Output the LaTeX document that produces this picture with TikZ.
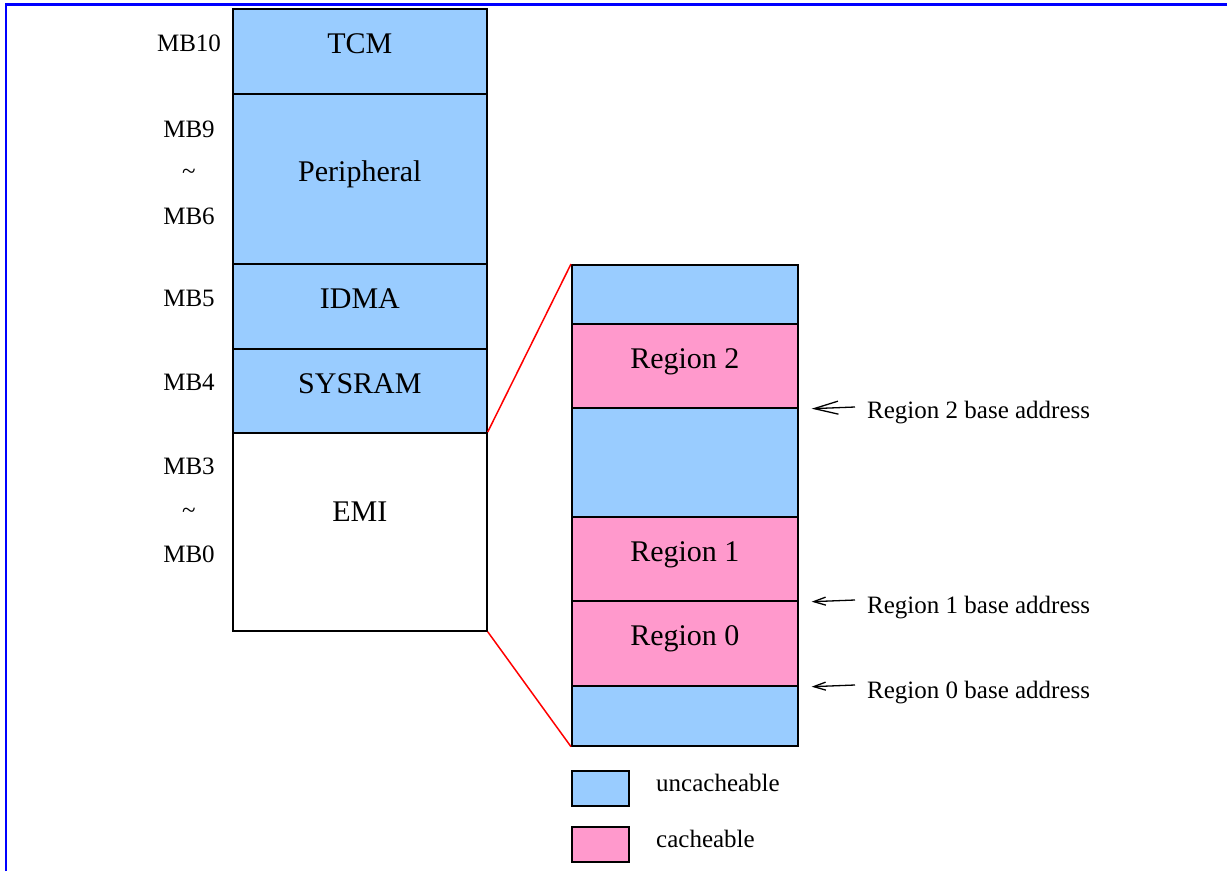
\documentclass[tikz,border=0pt]{standalone}
\usepackage{fontspec}
\setmainfont{Liberation Serif}
\usetikzlibrary{arrows.meta,calc}
\definecolor{ublue}{HTML}{99CCFF}
\definecolor{cpink}{HTML}{FF99CC}
\definecolor{frameblue}{RGB}{0,0,255}
\begin{document}
\begin{tikzpicture}[x=1pt,y=-1pt,
  blk/.style={draw=black, line width=1.7pt, inner sep=0pt, anchor=north west,
    font=\fontsize{30}{36}\selectfont, text height=20pt, text depth=15pt},
  ub/.style={blk, fill=ublue},
  cb/.style={blk, fill=cpink},
  wb/.style={blk, fill=white},
  mblabel/.style={anchor=base, font=\fontsize{25}{30}\selectfont, inner sep=0pt},
  txtlabel/.style={anchor=base west, font=\fontsize{25}{30}\selectfont, inner sep=0pt},
  zoomline/.style={draw=red, line width=1.5pt},
  bigarr/.style={draw=black, line width=1.3pt, {Straight Barb[length=24pt,width=13pt]}-},
  smallarr/.style={draw=black, line width=1.3pt, {Straight Barb[length=12pt,width=8pt]}-}
]
\useasboundingbox (0,0) rectangle (1227,871);
\fill[white] (0,0) rectangle (1227,871);
% frame
\coordinate (fa) at (6,871);
\coordinate (fb) at (6,4.5);
\coordinate (fc) at (1227,4.5);
\draw[frameblue, line width=2.2pt] (fa) -- (fb) -- (fc);

% left memory map
\node[ub, minimum width=254pt, minimum height=85pt] (tcm) at (232,8) {TCM};
\node[ub, minimum width=254pt, minimum height=170pt] (per) at (232,93) {Peripheral};
\node[ub, minimum width=254pt, minimum height=85pt] (idma) at (232,263) {IDMA};
\node[ub, minimum width=254pt, minimum height=84pt] (sys) at (232,348) {SYSRAM};
\node[wb, minimum width=254pt, minimum height=198pt, text depth=40pt] (emi) at (232,432) {EMI};

% MB labels
\node[mblabel] (mb10) at (189,51) {MB10};
\node[mblabel] (mb9) at (189,137) {MB9};
\node[mblabel] (t1) at (189,179) {\textasciitilde};
\node[mblabel] (mb6) at (189,224) {MB6};
\node[mblabel] (mb5) at (189,306) {MB5};
\node[mblabel] (mb4) at (189,390) {MB4};
\node[mblabel] (mb3) at (189,474) {MB3};
\node[mblabel] (t2) at (189,518) {\textasciitilde};
\node[mblabel] (mb0) at (189,562) {MB0};

% right expanded EMI
\node[ub, minimum width=226pt, minimum height=59pt] (rtop) at (571,264) {};
\node[cb, minimum width=226pt, minimum height=84pt] (r2) at (571,323) {Region 2};
\node[ub, minimum width=226pt, minimum height=109pt] (rmid) at (571,407) {};
\node[cb, minimum width=226pt, minimum height=84pt] (r1) at (571,516) {Region 1};
\node[cb, minimum width=226pt, minimum height=85pt] (r0) at (571,600) {Region 0};
\node[ub, minimum width=226pt, minimum height=60pt] (rbot) at (571,685) {};

% zoom lines
\draw[zoomline] (emi.north east) -- (rtop.north west);
\draw[zoomline] (emi.south east) -- (rbot.south west);

% base address labels
\node[txtlabel] (l2) at (867,418) {Region 2 base address};
\node[txtlabel] (l1) at (867,613) {Region 1 base address};
\node[txtlabel] (l0) at (867,698) {Region 0 base address};
\coordinate (e2) at (855,407);
\coordinate (e1) at (855,600);
\coordinate (e0) at (855,685);
\draw[bigarr] ($(r2.south east)+(13,0)$) -- (e2);
\draw[smallarr] ($(r1.south east)+(13,0)$) -- (e1);
\draw[smallarr] ($(r0.south east)+(13,0)$) -- (e0);

% legend
\node[blk, fill=ublue, minimum width=57pt, minimum height=29pt] (lgu) at (571,770) {};
\node[blk, fill=cpink, minimum width=57pt, minimum height=29pt] (lgc) at (571,826) {};
\node[txtlabel] (tu) at (656,791) {uncacheable};
\node[txtlabel] (tc) at (656,847) {cacheable};
\end{tikzpicture}
\end{document}
